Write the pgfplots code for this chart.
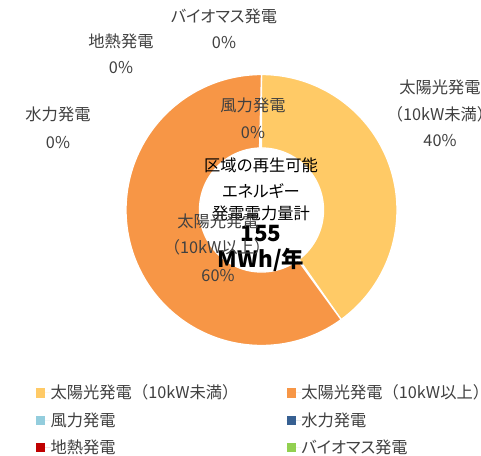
\documentclass[border=0pt]{standalone}
\usepackage{pgfplots}
\pgfplotsset{compat=1.18}
\usepackage{pgfplotstable}
\usepackage{fontspec}
\setmainfont{Noto Sans CJK JP}
\newfontfamily\kanafont[RawFeature=+palt]{Noto Sans CJK JP}
\definecolor{cA}{HTML}{FFCA66}
\definecolor{cB}{HTML}{F79646}
\definecolor{cC}{HTML}{93CDDD}
\definecolor{cD}{HTML}{376092}
\definecolor{cE}{HTML}{C00000}
\definecolor{cF}{HTML}{92D050}
\definecolor{txt}{HTML}{404040}
\pgfplotstableread{
name value
s1 62
s2 93
wind 0
hydro 0
geo 0
bio 0
}\datatable
\newcommand\lf{\fontsize{12.2}{14.5}\selectfont}
\newcommand\bigbf{\fontsize{16.8}{19}\selectfont\bfseries}
\tikzset{
  lab/.style={anchor=base, yshift=-0.38em, text=txt, font=\lf, inner sep=0pt},
  ctr/.style={anchor=base, yshift=-0.38em, text=black, font=\lf, inner sep=0pt},
}
\begin{document}
\begin{tikzpicture}
\fill[white] (0,0) rectangle (360.75pt,342pt);
\clip (0,0) rectangle (360.75pt,342pt);
\pgfplotstablegetelem{0}{value}\of\datatable \let\vA\pgfplotsretval
\pgfplotstablegetelem{1}{value}\of\datatable \let\vB\pgfplotsretval
\pgfmathsetmacro\tot{\vA+\vB}
\pgfmathsetmacro\aA{360*(\vA/\tot)}
\pgfmathsetmacro\aB{360}
\begin{axis}[at={(0,0)}, anchor=south west, scale only axis,
  width=360.75pt, height=342pt, xmin=0, xmax=481, ymin=0, ymax=456,
  y dir=reverse, hide axis, clip=false,
  legend columns=2, legend cell align=left,
  legend image code/.code={\fill[#1] (0pt,-3.4pt) rectangle (6.75pt,3.4pt); \path (0pt,0pt) -- (11pt,0pt);},
  legend style={at={(axis cs:36,385)}, anchor=north west, draw=none, fill=none,
    inner sep=0pt, outer sep=0pt, column sep=0pt, row sep=8.6pt,
    nodes={inner sep=0pt, text=txt}, font=\lf},
]
\addplot[forget plot, fill=cA, draw=white, line width=1pt, domain=0:2, samples=241, variable=\t]
 ({261.5 + ((\t<=1) ? 135.5 : 62)*sin((\t<=1) ? (\aA*\t) : (\aA-\aA*(\t-1)))},
  {210 - ((\t<=1) ? 135.5 : 62)*cos((\t<=1) ? (\aA*\t) : (\aA-\aA*(\t-1)))}) -- cycle;
\addplot[forget plot, fill=cB, draw=white, line width=1pt, domain=0:2, samples=241, variable=\t]
 ({261.5 + ((\t<=1) ? 135.5 : 62)*sin((\t<=1) ? (\aA+(\aB-\aA)*\t) : (\aB-(\aB-\aA)*(\t-1)))},
  {210 - ((\t<=1) ? 135.5 : 62)*cos((\t<=1) ? (\aA+(\aB-\aA)*\t) : (\aB-(\aB-\aA)*(\t-1)))}) -- cycle;
\addlegendimage{fill=cA, draw=none}
\addlegendentry{\makebox[177pt][l]{太陽光発電（10kW未満）}}
\addlegendimage{fill=cB, draw=none}
\addlegendentry{太陽光発電（10kW以上）}
\addlegendimage{fill=cC, draw=none}
\addlegendentry{\makebox[177pt][l]{風力発電}}
\addlegendimage{fill=cD, draw=none}
\addlegendentry{水力発電}
\addlegendimage{fill=cE, draw=none}
\addlegendentry{\makebox[177pt][l]{地熱発電}}
\addlegendimage{fill=cF, draw=none}
\addlegendentry{{\kanafont バイオマス発電}}

\node[lab] at (axis cs:224,17) {\kanafont バイオマス発電};
\node[lab] at (axis cs:224,43) {0\%};
\node[lab] at (axis cs:121,42) {地熱発電};
\node[lab] at (axis cs:121,68) {0\%};
\node[lab] at (axis cs:58,115) {水力発電};
\node[lab] at (axis cs:58,143) {0\%};
\node[lab] at (axis cs:253,106) {風力発電};
\node[lab] at (axis cs:253,133) {0\%};
\node[lab] at (axis cs:440,88) {太陽光発電};
\node[lab] at (axis cs:440,115) {（10kW未満）};
\node[lab] at (axis cs:440,141) {40\%};
\node[ctr] at (axis cs:261,166) {区域の再生可能};
\node[ctr] at (axis cs:261,192) {\kanafont エネルギー};
\node[ctr] at (axis cs:261,214) {発電電力量計};
\node[ctr, font=\bigbf] at (axis cs:261,236) {155};
\node[ctr, font=\bigbf] at (axis cs:261,262) {MWh/年};
\node[lab] at (axis cs:218,222) {太陽光発電};
\node[lab] at (axis cs:217,248) {（10kW以上）};
\node[lab] at (axis cs:218,276) {60\%};
\end{axis}
\end{tikzpicture}
\end{document}
